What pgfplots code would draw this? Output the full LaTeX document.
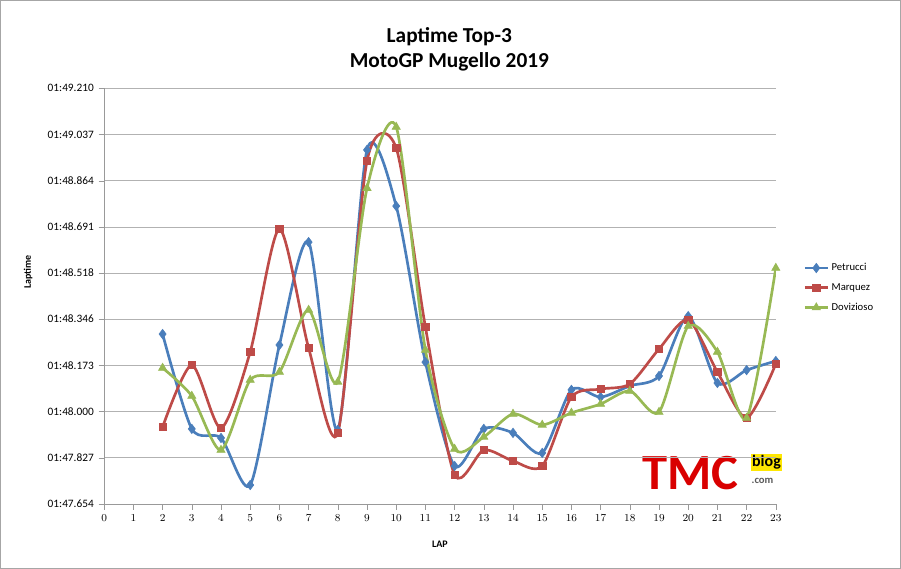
\documentclass[border=0pt]{standalone}
\usepackage{pgfplots}
\pgfplotsset{compat=1.18}
\usepackage{fontspec}
\setmainfont{Carlito}
\definecolor{pb}{HTML}{4A7EBB}
\definecolor{pr}{HTML}{BE4B48}
\definecolor{pg}{HTML}{98B954}
\begin{document}
\begin{tikzpicture}
\draw[gray!70,fill=white] (0pt,0pt) rectangle (675.75pt,426pt);
\node[font=\bfseries\fontsize{16}{19}\selectfont,align=center] at (337pt,389pt) {Laptime Top-3\\MotoGP Mugello 2019};
\node[font=\bfseries\fontsize{7.5}{9}\selectfont,rotate=90] at (21pt,222pt) {Laptime};
\node[font=\bfseries\fontsize{7.5}{9}\selectfont] at (330pt,18pt) {LAP};
\node[font=\bfseries\fontsize{38}{38}\selectfont,text=red!85!black,inner sep=0pt] at (518pt,71pt) {TMC};
\node[font=\bfseries\fontsize{12}{12}\selectfont,fill=yellow!90!orange,inner sep=1pt] at (575pt,79pt) {blog};
\node[font=\bfseries\fontsize{8}{8}\selectfont,text=gray!70!black,inner sep=0pt] at (572pt,65pt) {.com};
\begin{axis}[at={(78pt,48pt)},anchor=south west,scale only axis,width=504pt,height=312pt,
 xmin=0,xmax=23,ymin=47.654,ymax=49.210,
 xtick={0,...,23},
 ytick={47.654,47.827,48.000,48.173,48.346,48.518,48.691,48.864,49.037,49.210},
 yticklabels={01:47.654,01:47.827,01:48.000,01:48.173,01:48.346,01:48.518,01:48.691,01:48.864,01:49.037,01:49.210},
 ymajorgrids,grid style={gray!60},
 tick label style={font=\fontsize{8.5}{10}\selectfont},
 axis line style={gray!80},tick style={gray!80},
 axis x line*=bottom, axis y line*=left,
 tick align=outside,
 legend style={at={(1.035,0.52)},anchor=west,draw=none,font=\fontsize{8}{9}\selectfont,row sep=4pt},
 legend cell align=left,
 every axis plot/.append style={line width=2pt,smooth,tension=0.45}]
\addplot[pb,mark=diamond*,mark size=3.5pt,mark options={line width=0.5pt}] coordinates {(2,48.290)(3,47.935)(4,47.901)(5,47.725)(6,48.249)(7,48.634)(8,47.931)(9,48.979)(10,48.769)(11,48.185)(12,47.796)(13,47.935)(14,47.920)(15,47.845)(16,48.081)(17,48.054)(18,48.096)(19,48.133)(20,48.357)(21,48.107)(22,48.155)(23,48.189)};
\addlegendentry{Petrucci}
\addplot[pr,mark=square*,mark size=2.8pt,mark options={line width=0.5pt}] coordinates {(2,47.942)(3,48.174)(4,47.938)(5,48.223)(6,48.683)(7,48.238)(8,47.920)(9,48.938)(10,48.986)(11,48.316)(12,47.763)(13,47.856)(14,47.815)(15,47.796)(16,48.054)(17,48.084)(18,48.103)(19,48.234)(20,48.343)(21,48.148)(22,47.976)(23,48.178)};
\addlegendentry{Marquez}
\addplot[pg,mark=triangle*,mark size=3.5pt,mark options={line width=0.5pt}] coordinates {(2,48.163)(3,48.058)(4,47.856)(5,48.118)(6,48.148)(7,48.380)(8,48.111)(9,48.836)(10,49.065)(11,48.230)(12,47.860)(13,47.905)(14,47.991)(15,47.950)(16,47.995)(17,48.028)(18,48.077)(19,47.998)(20,48.320)(21,48.223)(22,47.976)(23,48.537)};
\addlegendentry{Dovizioso}
\end{axis}
\end{tikzpicture}
\end{document}
